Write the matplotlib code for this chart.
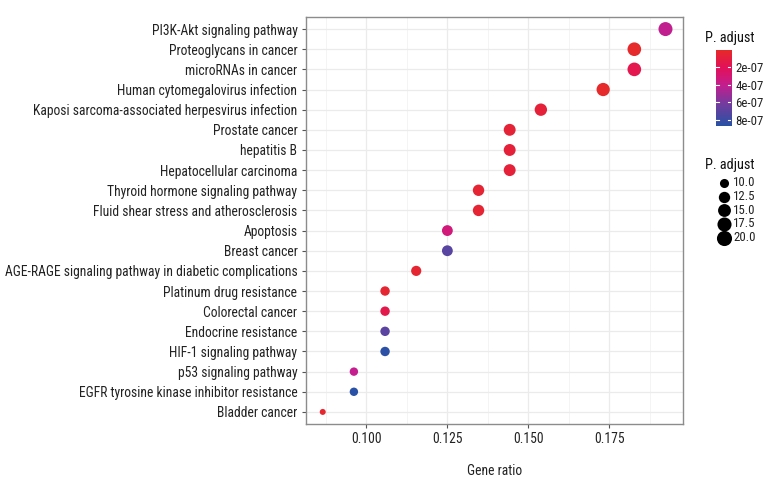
import matplotlib
matplotlib.use("Agg")
import matplotlib.pyplot as plt
import numpy as np
from matplotlib import font_manager as fm
from matplotlib.colors import LinearSegmentedColormap, Normalize
from matplotlib.lines import Line2D
from matplotlib.textpath import TextPath
from matplotlib.font_manager import FontProperties

terms = [
    "PI3K-Akt signaling pathway",
    "Proteoglycans in cancer",
    "microRNAs in cancer",
    "Human cytomegalovirus infection",
    "Kaposi sarcoma-associated herpesvirus infection",
    "Prostate cancer",
    "hepatitis B",
    "Hepatocellular carcinoma",
    "Thyroid hormone signaling pathway",
    "Fluid shear stress and atherosclerosis",
    "Apoptosis",
    "Breast cancer",
    "AGE-RAGE signaling pathway in diabetic complications",
    "Platinum drug resistance",
    "Colorectal cancer",
    "Endocrine resistance",
    "HIF-1 signaling pathway",
    "p53 signaling pathway",
    "EGFR tyrosine kinase inhibitor resistance",
    "Bladder cancer",
]
counts = [20, 19, 19, 18, 16, 15, 15, 15, 14, 14, 13, 13, 12, 11, 11, 11, 11, 10, 10, 9]
total_genes = 104
p_adjust = [4.1e-7, 0.1e-7, 1.5e-7, 0.1e-7, 0.7e-7, 0.6e-7, 0.7e-7, 0.7e-7, 0.5e-7, 0.5e-7,
            3.2e-7, 7.1e-7, 0.4e-7, 0.4e-7, 1.4e-7, 7.0e-7, 8.5e-7, 4.0e-7, 8.6e-7, 0.3e-7]
p_min, p_max = 0.0, 8.7e-7
cbar_ticks = [2e-7, 4e-7, 6e-7, 8e-7]
cbar_labels = ["2e-07", "4e-07", "6e-07", "8e-07"]
size_breaks = [10.0, 12.5, 15.0, 17.5, 20.0]
x_ticks = [0.100, 0.125, 0.150, 0.175]

# ---- choose a condensed font if one is installed ----
def _is_regular(f):
    w = f.weight
    return w in (400, 'normal', 'regular', 'book', 'Regular') and f.style == 'normal'

def _is_cond(f):
    st = f.stretch
    nm = f.name.lower()
    if 'narrow' in nm or 'condensed' in nm:
        return True
    if isinstance(st, str):
        return 'condensed' in st.lower()
    try:
        return int(st) < 500
    except Exception:
        return False

pref = ['Liberation Sans Narrow', 'Roboto Condensed', 'Open Sans Condensed',
        'Noto Sans', 'DejaVu Sans', 'Open Sans', 'Roboto', 'Noto Sans Display']
chosen = None
conds = [f for f in fm.fontManager.ttflist if _is_cond(f) and _is_regular(f)]
for p in pref:
    for f in conds:
        if f.name == p:
            chosen = f
            break
    if chosen:
        break
if chosen is None and conds:
    chosen = conds[0]

if chosen is not None:
    fprop = FontProperties(fname=chosen.fname)
else:
    fprop = FontProperties(family='Liberation Sans')
    try:
        fm.findfont(fprop, fallback_to_default=False)
    except Exception:
        fprop = FontProperties(family='DejaVu Sans')

def width_px(txt, size):
    fp_ = fprop.copy()
    fp_.set_size(size)
    tp = TextPath((0, 0), txt, prop=fp_)
    return tp.get_extents().width / 72 * 100

ref_w = 262.0
fs = 10.0 * ref_w / width_px("Kaposi sarcoma-associated herpesvirus infection", 10.0)
fs = min(fs, 10.5)
fs_small = fs * 0.95

def fp(size):
    p = fprop.copy()
    p.set_size(size)
    return p

gene_ratio = np.array(counts) / total_genes

cmap = LinearSegmentedColormap.from_list(
    "rb", [(0.0, "#E62A28"), (0.23, "#E3115A"), (0.46, "#C41E8E"),
           (0.69, "#7A3A9E"), (1.0, "#2752A5")])
norm = Normalize(vmin=p_min, vmax=p_max)

cmin, cmax = 9, 20
def size_pt2(c):
    d_px = 6 + 8 * np.sqrt(np.clip((np.asarray(c, float) - cmin) / (cmax - cmin), 0, 1))
    d_pt = d_px * 0.72
    return d_pt ** 2

fig = plt.figure(figsize=(7.8, 4.95), dpi=100)
ax = fig.add_axes([0.392, 0.1434, 0.484, 0.8223])

n = len(terms)
ypos = np.arange(n, 0, -1)
ax.scatter(gene_ratio, ypos, s=size_pt2(counts), c=cmap(norm(np.array(p_adjust))),
           edgecolors='none', zorder=3)

ax.set_xlim(0.0813, 0.1978)
ax.set_ylim(0.4, n + 0.6)
ax.set_yticks(ypos)
ax.set_yticklabels(terms, fontproperties=fp(fs))
ax.set_xticks(x_ticks)
ax.set_xticklabels(["%.3f" % v for v in x_ticks], fontproperties=fp(fs))
ax.set_xticks([0.0875, 0.1125, 0.1375, 0.1625, 0.1875], minor=True)
ax.tick_params(axis='x', which='minor', length=0)
ax.tick_params(axis='both', which='major', length=3, color='#555555', labelcolor='#222222', pad=3)
ax.grid(True, which='major', color='#EBEBEB', linewidth=0.9, zorder=0)
ax.grid(True, which='minor', axis='x', color='#F2F2F2', linewidth=0.6, zorder=0)
ax.set_axisbelow(True)
for sp in ax.spines.values():
    sp.set_color('#8C8C8C')
    sp.set_linewidth(1.0)
ax.set_xlabel("Gene ratio", fontproperties=fp(fs), labelpad=13, color='#222222')

# colorbar
cax = fig.add_axes([0.9176, 0.7455, 0.0196, 0.1535])
grad = np.linspace(p_min, p_max, 256).reshape(-1, 1)
cax.imshow(grad, aspect='auto', cmap=cmap, norm=norm, origin='upper',
           extent=[0, 1, p_max, p_min])
cax.set_xlim(0, 1)
cax.set_ylim(p_max, p_min)
cax.set_xticks([])
cax.yaxis.tick_right()
cax.set_yticks(cbar_ticks)
cax.set_yticklabels(cbar_labels, fontproperties=fp(fs_small))
cax.tick_params(axis='y', length=0, pad=3, labelcolor='#222222')
for t in cbar_ticks:
    cax.plot([0, 0.2], [t, t], color='white', lw=0.8)
    cax.plot([0.8, 1], [t, t], color='white', lw=0.8)
for sp in cax.spines.values():
    sp.set_visible(False)
fig.text(705 / 780, 1 - 38 / 495, "P. adjust", fontproperties=fp(fs * 1.05), ha='left',
         va='center', color='#111111')

# size legend
fig.text(705 / 780, 1 - 165 / 495, "P. adjust", fontproperties=fp(fs * 1.05), ha='left',
         va='center', color='#111111')
leg_y_px = [182.7, 196.5, 210.2, 223.9, 237.6]
for b, ypx in zip(size_breaks, leg_y_px):
    yf = 1 - ypx / 495
    fig.add_artist(Line2D([724 / 780], [yf], marker='o', linestyle='none',
                          markersize=np.sqrt(size_pt2(b)) * 1.08, color='black',
                          markeredgewidth=0, transform=fig.transFigure))
    fig.text(733 / 780, yf, "%.1f" % b, fontproperties=fp(fs_small), ha='left', va='center',
             color='#222222')

fig.savefig("out.png", dpi=100)
